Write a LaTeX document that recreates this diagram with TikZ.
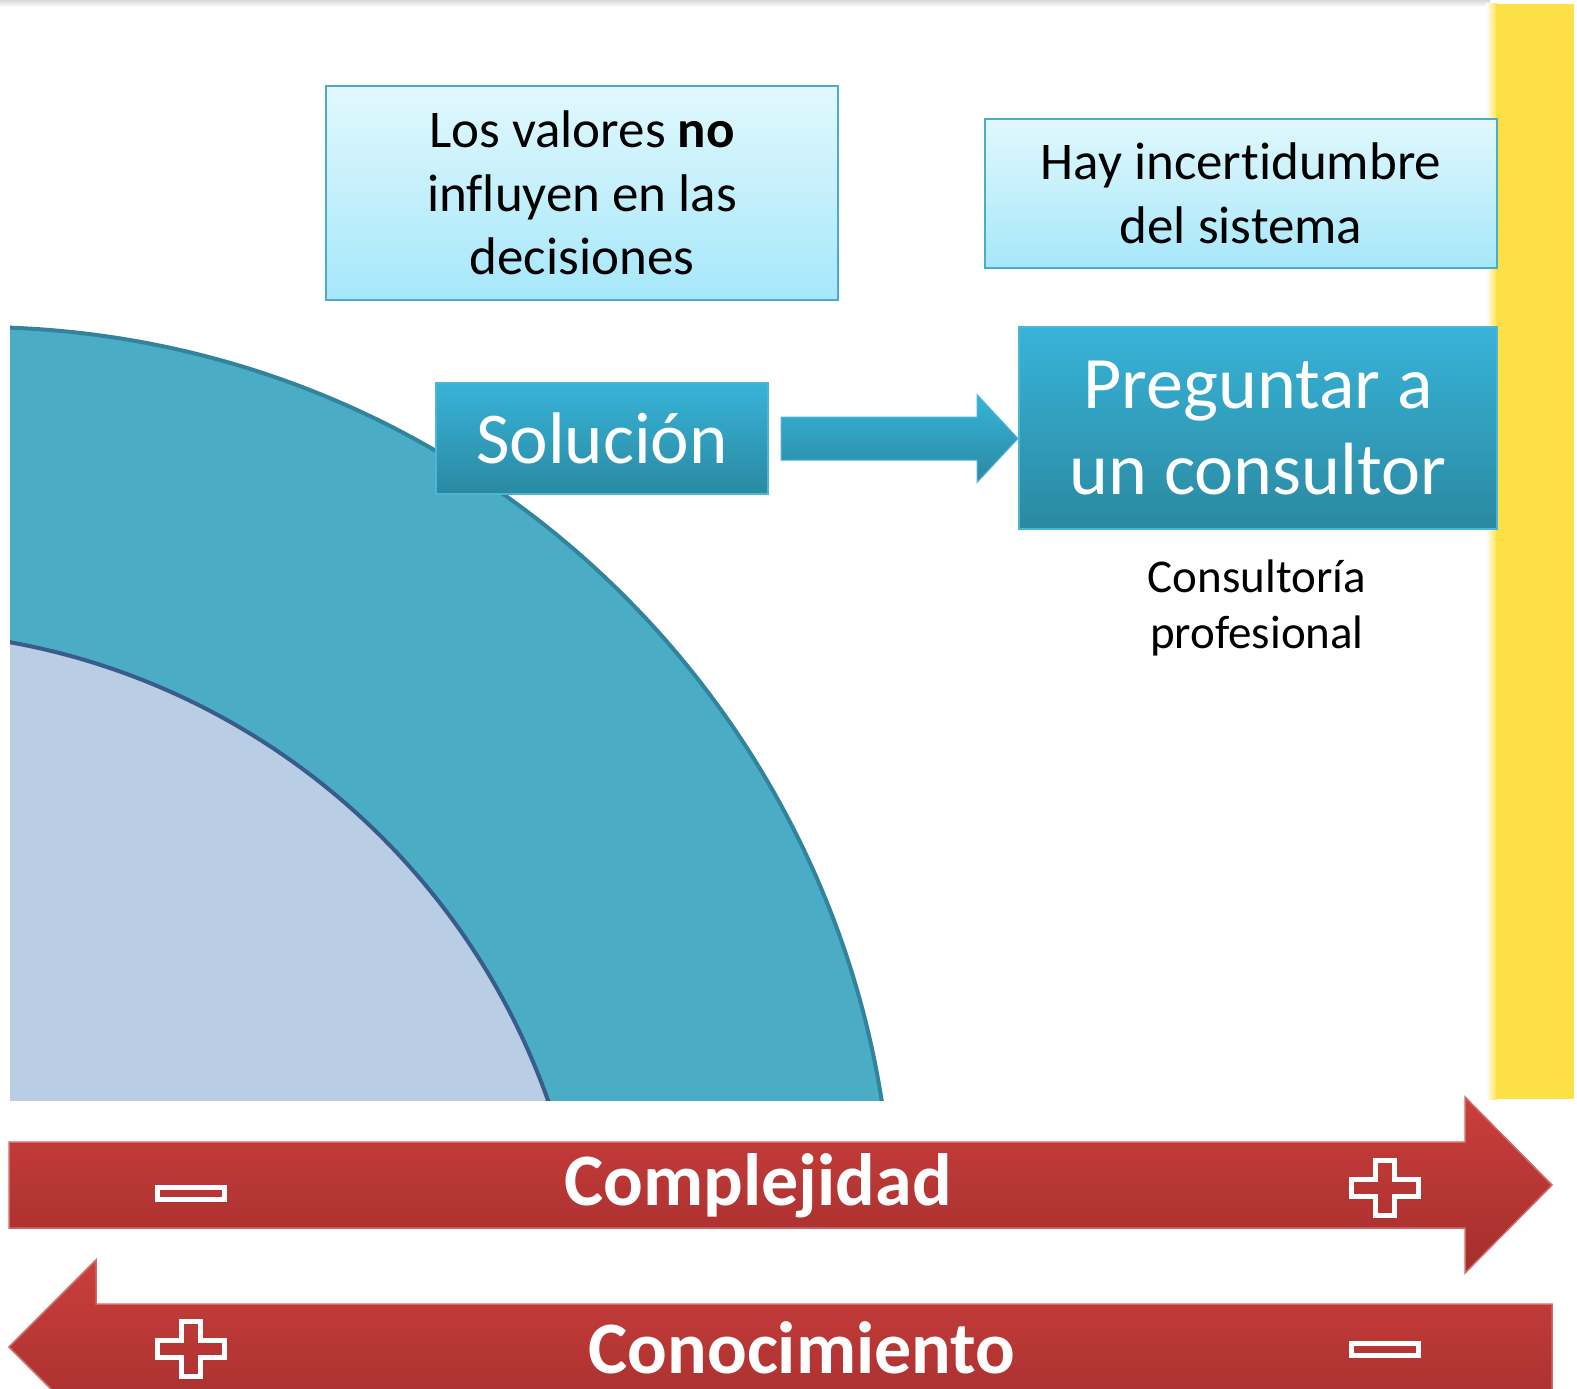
\documentclass[tikz,border=0pt]{standalone}
\usepackage{fontspec}
\setmainfont{Carlito}[Ligatures={NoCommon}]
\usetikzlibrary{calc}
\definecolor{tealfill}{HTML}{4BACC6}
\definecolor{tealline}{HTML}{31849B}
\definecolor{innerfill}{HTML}{B9CDE5}
\definecolor{innerline}{HTML}{385D8A}
\definecolor{lighttop}{HTML}{E1F8FD}
\definecolor{lightbot}{HTML}{A6E7FA}
\definecolor{lightline}{HTML}{4BACC6}
\definecolor{darktop}{HTML}{38B3D8}
\definecolor{darkbot}{HTML}{2A89A1}
\definecolor{darkline}{HTML}{4DB6D8}
\definecolor{redtop}{HTML}{CA3F3C}
\definecolor{redbot}{HTML}{A42E2D}
\definecolor{redline}{HTML}{D46A67}
\definecolor{yel}{HTML}{FDE046}
\tikzset{
  lightbox/.style={draw=lightline, line width=2pt, top color=lighttop, bottom color=lightbot, align=center, inner sep=0pt, font=\fontsize{53pt}{63.5pt}\selectfont},
  darkbox/.style={draw=darkline, line width=2pt, top color=darktop, bottom color=darkbot, align=center, inner sep=0pt, text=white},
  bluearrow/.style={top color=darktop, bottom color=darkbot, draw=darkline, line width=1pt},
  redarrow/.style={top color=redtop, bottom color=redbot, draw=redline, line width=1.5pt},
  bigtext/.style={text=white, font=\fontsize{74pt}{88pt}\selectfont\bfseries, inner sep=0pt},
  signline/.style={draw=white, line width=5pt},
  plussign/.pic={\draw[signline] (-9.5,-27.5) -- (9.5,-27.5) -- (9.5,-8.5) -- (33.5,-8.5) -- (33.5,8.5) -- (9.5,8.5) -- (9.5,27.5) -- (-9.5,27.5) -- (-9.5,8.5) -- (-33.5,8.5) -- (-33.5,-8.5) -- (-9.5,-8.5) -- cycle;},
  minussign/.pic={\draw[signline] (-33.5,-6) rectangle (33.5,6);}
}
\begin{document}
\begin{tikzpicture}[x=1pt,y=-1pt]
\useasboundingbox (0,0) rectangle (1577,1389);
\begin{scope}
\clip (0,0) rectangle (1577,1389);
\fill[white] (0,0) rectangle (1577,1389);
% top faint line
\shade[top color=gray!30, bottom color=white] (0,0) rectangle (1490,7);
% yellow bar
\shade[left color=white, right color=yel] (1486,4) rectangle (1497,1099);
\fill[yel] (1496,4) rectangle (1574,1099);
% concentric quarter circles
\begin{scope}
\clip (10,0) rectangle (1490,1100);
\filldraw[fill=tealfill, draw=tealline, line width=4pt] (-25,1245) circle[radius=918pt];
\filldraw[fill=innerfill, draw=innerline, line width=4pt] (-116,1335) circle[radius=704pt];
\end{scope}
% boxes
\node[lightbox, minimum width=512pt, minimum height=214pt] (valores) at (582,193) {Los valores \textbf{no}\\influyen en las\\decisiones};
\node[lightbox, minimum width=512pt, minimum height=149pt] (incert) at (1241,193.5) {Hay incertidumbre\\del sistema};
\node[darkbox, minimum width=332pt, minimum height=111pt, font=\fontsize{73pt}{86pt}\selectfont] (sol) at (602,438.5) {Solución};
\node[darkbox, minimum width=478pt, minimum height=202pt, font=\fontsize{74pt}{86pt}\selectfont] (pre) at (1258,428) {\raisebox{0pt}{}Preguntar a\\un consultor};
\node[align=center, inner sep=0pt, font=\fontsize{47pt}{56pt}\selectfont] (cons) at (1257,608) {Consultoría\\profesional};
% arrow Solucion -> Preguntar
\coordinate (tip) at (pre.west |- sol.east);
\draw[bluearrow] ($(sol.east)+(12,-21.5)$) -- ($(tip)+(-41,-21.5)$) -- ($(tip)+(-41,-44)$) -- (tip) -- ($(tip)+(-41,44)$) -- ($(tip)+(-41,21.5)$) -- ($(sol.east)+(12,21.5)$) -- cycle;
% red arrows
\draw[redarrow] (9,1142) -- (1465,1142) -- (1465,1097) -- (1552,1185) -- (1465,1273) -- (1465,1228) -- (9,1228) -- cycle;
\draw[redarrow] (1552,1304) -- (96,1304) -- (96,1260) -- (9,1347) -- (96,1434) -- (96,1390) -- (1552,1390) -- cycle;
\node[bigtext] (comp) at (758,1186) {Complejidad};
\node[bigtext] (cono) at (802,1348) {Conocimiento};
\pic at (190.5,1193.5) {minussign};
\pic at (1385,1188) {plussign};
\pic at (190.5,1349) {plussign};
\pic at (1385,1349.5) {minussign};
\end{scope}
\end{tikzpicture}
\end{document}
